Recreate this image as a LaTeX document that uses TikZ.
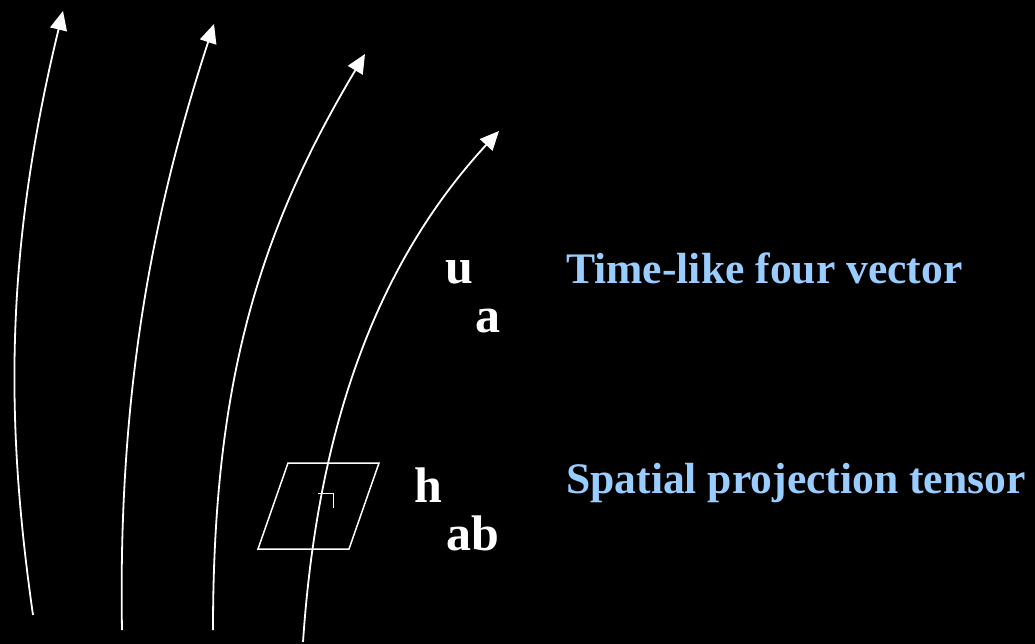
\documentclass[tikz,border=0pt]{standalone}
\usepackage{fontspec}
\setmainfont{Liberation Serif}
\usetikzlibrary{arrows.meta}
\definecolor{lblue}{HTML}{99CCFF}
\tikzset{
  flow/.style={draw=white,line width=1.8pt,-{Triangle[length=19pt,width=17pt]}},
  sym/.style={text=white,font=\bfseries\fontsize{50}{50}\selectfont,inner sep=0pt,anchor=base west},
  lbl/.style={text=lblue,font=\bfseries\fontsize{43.6}{44}\selectfont,inner sep=0pt,anchor=base west},
  plane/.style={draw=white,line width=1.5pt,line join=miter},
  rmark/.style={draw=white,line width=1pt}
}
\begin{document}
\begin{tikzpicture}[x=1pt,y=-1pt]
\fill[black] (0,0) rectangle (1035,644);
\useasboundingbox (0,0) rectangle (1035,644);
% world lines
\coordinate (s1) at (33,615);  \coordinate (e1) at (63,11);
\coordinate (s2) at (122,630); \coordinate (e2) at (214,24);
\coordinate (s3) at (213,630); \coordinate (e3) at (365,54);
\coordinate (s4) at (303,642); \coordinate (e4) at (499,131);
\draw[flow] (s1) .. controls (5,420) and (5,250) .. (e1);
\draw[flow] (s2) .. controls (118,400) and (150,220) .. (e2);
\draw[flow] (s3) .. controls (213,380) and (260,230) .. (e3);
% parallelogram
\coordinate (p1) at (288,463); \coordinate (p2) at (379,463);
\coordinate (p3) at (349,549); \coordinate (p4) at (258,549);
\draw[plane] (p1) -- (p2) -- (p3) -- (p4) -- cycle;
\draw[flow] (s4) .. controls (318,420) and (380,260) .. (e4);
% right angle mark
\coordinate (r1) at (318,493); \coordinate (r2) at (333,493); \coordinate (r3) at (333,508);
\draw[rmark] (r1) -- (r2) -- (r3);
% symbols
\node[sym] (u) at (445,283) {u};
\node[sym] (a) at (475,332) {a};
\node[sym] (h) at (414,502) {h};
\node[sym] (ab) at (446,550) {ab};
% labels
\node[lbl] (t1) at (566,283) {Time-like four vector};
\node[lbl] (t2) at (566,493) {Spatial projection tensor};
\end{tikzpicture}
\end{document}
